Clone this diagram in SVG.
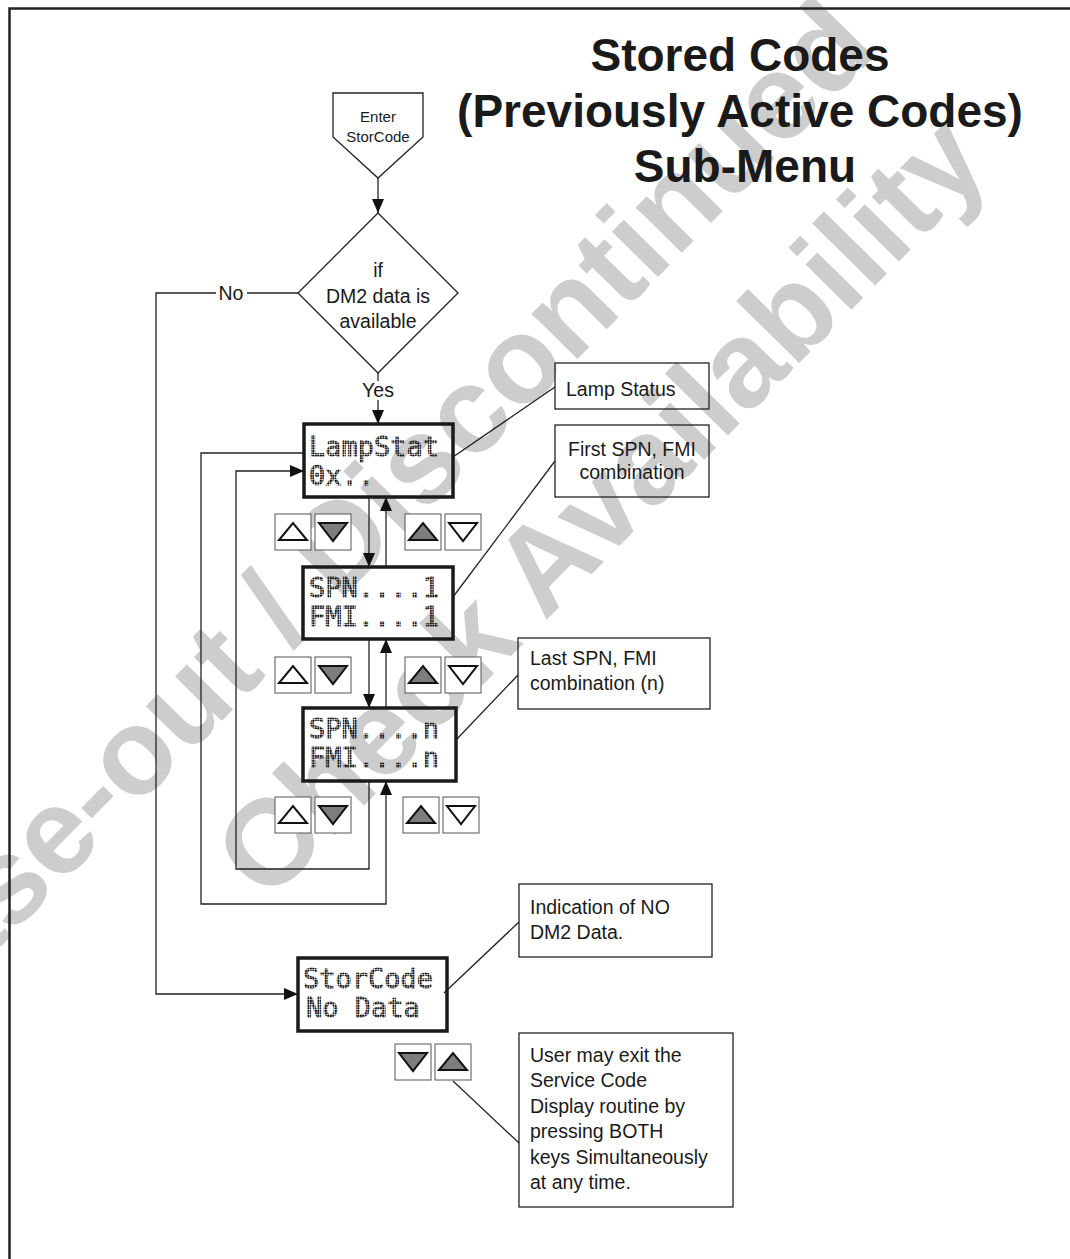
<svg xmlns="http://www.w3.org/2000/svg" width="1070" height="1259" viewBox="0 0 1070 1259">
<defs>
<style>
.wm{font-family:"Liberation Sans",Arial,sans-serif;font-weight:bold;font-size:122px;fill:#cdcdcd;text-anchor:middle}
.title{font-family:"Liberation Sans",Arial,sans-serif;font-weight:bold;font-size:46px;fill:#1a1a1a;text-anchor:middle}
.t{font-family:"Liberation Sans",Arial,sans-serif;font-size:19.5px;fill:#1a1a1a}
.tc{font-family:"Liberation Sans",Arial,sans-serif;font-size:19.5px;fill:#1a1a1a;text-anchor:middle}
.ts{font-family:"Liberation Sans",Arial,sans-serif;font-size:15px;fill:#1a1a1a;text-anchor:middle}
.lcd{font-family:"DejaVu Sans Mono","Liberation Mono",monospace;font-size:27px;fill:url(#dots);stroke:url(#dots);stroke-width:0.9}
.lcdbox{fill:none;stroke:#1a1a1a;stroke-width:3.5}
.box{fill:none;stroke:#222;stroke-width:1.3}
.ln{fill:none;stroke:#222;stroke-width:1.3}
.btn{fill:#fff;stroke:#555;stroke-width:1}
.tri{stroke:#111;stroke-width:2;stroke-linejoin:miter}
.w{fill:#fff}
.g{fill:#7d7d7d}
</style>
<pattern id="dots" width="2.5" height="2.5" patternUnits="userSpaceOnUse"><rect width="1.9" height="1.9" fill="#0d0d0d"/></pattern>
<marker id="ah" viewBox="0 0 14 12" refX="14" refY="6" markerWidth="14" markerHeight="12" markerUnits="userSpaceOnUse" orient="auto"><path d="M0,0 L14,6 L0,12 Z" fill="#111"/></marker>
</defs>
<rect width="1070" height="1259" fill="#fff"/>
<g id="watermark">
<text class="wm" transform="translate(367,573) rotate(-45.5)">Phase-out / Discontinued</text>
<text class="wm" transform="translate(630,535) rotate(-45.5)">Check Availability</text>
</g>
<g id="frame"><path d="M1070,8.5 H9.5 V1259" fill="none" stroke="#222" stroke-width="2.5"/></g>
<g id="title">
<text class="title" x="740" y="71">Stored Codes</text>
<text class="title" x="740" y="127">(Previously Active Codes)</text>
<text class="title" x="745" y="182">Sub-Menu</text>
</g>
<g id="connectors">
<path class="ln" d="M378,178 V213" marker-end="url(#ah)"/>
<path class="ln" d="M298,293 H247 M216,293 H156 V994 H298" marker-end="url(#ah)"/>
<path class="ln" d="M378,373 V381"/>
<path class="ln" d="M378,400 V424" marker-end="url(#ah)"/>
<path class="ln" d="M369,497 V567" marker-end="url(#ah)"/>
<path class="ln" d="M386,567 V497" marker-end="url(#ah)"/>
<path class="ln" d="M369,639 V708" marker-end="url(#ah)"/>
<path class="ln" d="M386,708 V639" marker-end="url(#ah)"/>
<path class="ln" d="M304,453 H201 V904 H386 V781" marker-end="url(#ah)"/>
<path class="ln" d="M369,781 V869 H236 V471 H304" marker-end="url(#ah)"/>
<path class="ln" d="M453,457 L555,387"/>
<path class="ln" d="M453,597 L555,461"/>
<path class="ln" d="M456,740 L518,675"/>
<path class="ln" d="M444,993 L519,922"/>
<path class="ln" d="M453,1081 L519,1143"/>
<text class="tc" x="231" y="300">No</text>
<text class="tc" x="378" y="397">Yes</text>
</g>
<g id="enter">
<path class="box" d="M333,93 H423 V137 L378,178 L333,137 Z"/>
<text class="ts" x="378" y="122">Enter</text>
<text class="ts" x="378" y="142">StorCode</text>
</g>
<g id="decision">
<path class="box" d="M378,213 L458,293 L378,373 L298,293 Z"/>
<text class="tc" x="378" y="277">if</text>
<text class="tc" x="378" y="303">DM2 data is</text>
<text class="tc" x="378" y="328">available</text>
</g>
<g id="lampstat">
<rect class="lcdbox" x="304" y="424" width="149" height="73"/>
<text class="lcd" x="309" y="456">LampStat</text>
<text class="lcd" x="309" y="485">0x..</text>
</g>
<g id="spn1">
<rect class="lcdbox" x="303" y="567" width="150" height="72"/>
<text class="lcd" x="309" y="597">SPN....1</text>
<text class="lcd" x="309" y="626">FMI....1</text>
</g>
<g id="spnn">
<rect class="lcdbox" x="303" y="708" width="153" height="73"/>
<text class="lcd" x="309" y="738">SPN....n</text>
<text class="lcd" x="309" y="767">FMI....n</text>
</g>
<g id="nodata">
<rect class="lcdbox" x="298" y="958" width="149" height="73"/>
<text class="lcd" x="303" y="988">StorCode</text>
<text class="lcd" x="306" y="1017">No Data</text>
</g>
<g id="buttons">
<g transform="translate(275,514)"><rect class="btn" width="36" height="36"/><path class="tri w" d="M4,26 H32 L18,9 Z"/></g>
<g transform="translate(315,514)"><rect class="btn" width="36" height="36"/><path class="tri g" d="M4,9 H32 L18,27 Z"/></g>
<g transform="translate(405,514)"><rect class="btn" width="36" height="36"/><path class="tri g" d="M4,26 H32 L18,9 Z"/></g>
<g transform="translate(445,514)"><rect class="btn" width="36" height="36"/><path class="tri w" d="M4,9 H32 L18,27 Z"/></g>
<g transform="translate(275,657)"><rect class="btn" width="36" height="36"/><path class="tri w" d="M4,26 H32 L18,9 Z"/></g>
<g transform="translate(315,657)"><rect class="btn" width="36" height="36"/><path class="tri g" d="M4,9 H32 L18,27 Z"/></g>
<g transform="translate(405,657)"><rect class="btn" width="36" height="36"/><path class="tri g" d="M4,26 H32 L18,9 Z"/></g>
<g transform="translate(445,657)"><rect class="btn" width="36" height="36"/><path class="tri w" d="M4,9 H32 L18,27 Z"/></g>
<g transform="translate(275,797)"><rect class="btn" width="36" height="36"/><path class="tri w" d="M4,26 H32 L18,9 Z"/></g>
<g transform="translate(315,797)"><rect class="btn" width="36" height="36"/><path class="tri g" d="M4,9 H32 L18,27 Z"/></g>
<g transform="translate(403,797)"><rect class="btn" width="36" height="36"/><path class="tri g" d="M4,26 H32 L18,9 Z"/></g>
<g transform="translate(443,797)"><rect class="btn" width="36" height="36"/><path class="tri w" d="M4,9 H32 L18,27 Z"/></g>
<g transform="translate(395,1044)"><rect class="btn" width="36" height="36"/><path class="tri g" d="M4,9 H32 L18,27 Z"/></g>
<g transform="translate(435,1044)"><rect class="btn" width="36" height="36"/><path class="tri g" d="M4,26 H32 L18,9 Z"/></g>
</g>
<g id="note-lamp">
<rect class="box" x="555" y="363" width="154" height="46"/>
<text class="t" x="566" y="396">Lamp Status</text>
</g>
<g id="note-first">
<rect class="box" x="555" y="425" width="154" height="72"/>
<text class="tc" x="632" y="456">First SPN, FMI</text>
<text class="tc" x="632" y="479">combination</text>
</g>
<g id="note-last">
<rect class="box" x="518" y="638" width="192" height="71"/>
<text class="t" x="530" y="665">Last SPN, FMI</text>
<text class="t" x="530" y="690">combination (n)</text>
</g>
<g id="note-nodata">
<rect class="box" x="519" y="884" width="193" height="73"/>
<text class="t" x="530" y="914">Indication of NO</text>
<text class="t" x="530" y="939">DM2 Data.</text>
</g>
<g id="note-exit">
<rect class="box" x="519" y="1033" width="214" height="174"/>
<text class="t" x="530" y="1062">User may exit the</text>
<text class="t" x="530" y="1087">Service Code</text>
<text class="t" x="530" y="1113">Display routine by</text>
<text class="t" x="530" y="1138">pressing BOTH</text>
<text class="t" x="530" y="1164">keys Simultaneously</text>
<text class="t" x="530" y="1189">at any time.</text>
</g>
</svg>
